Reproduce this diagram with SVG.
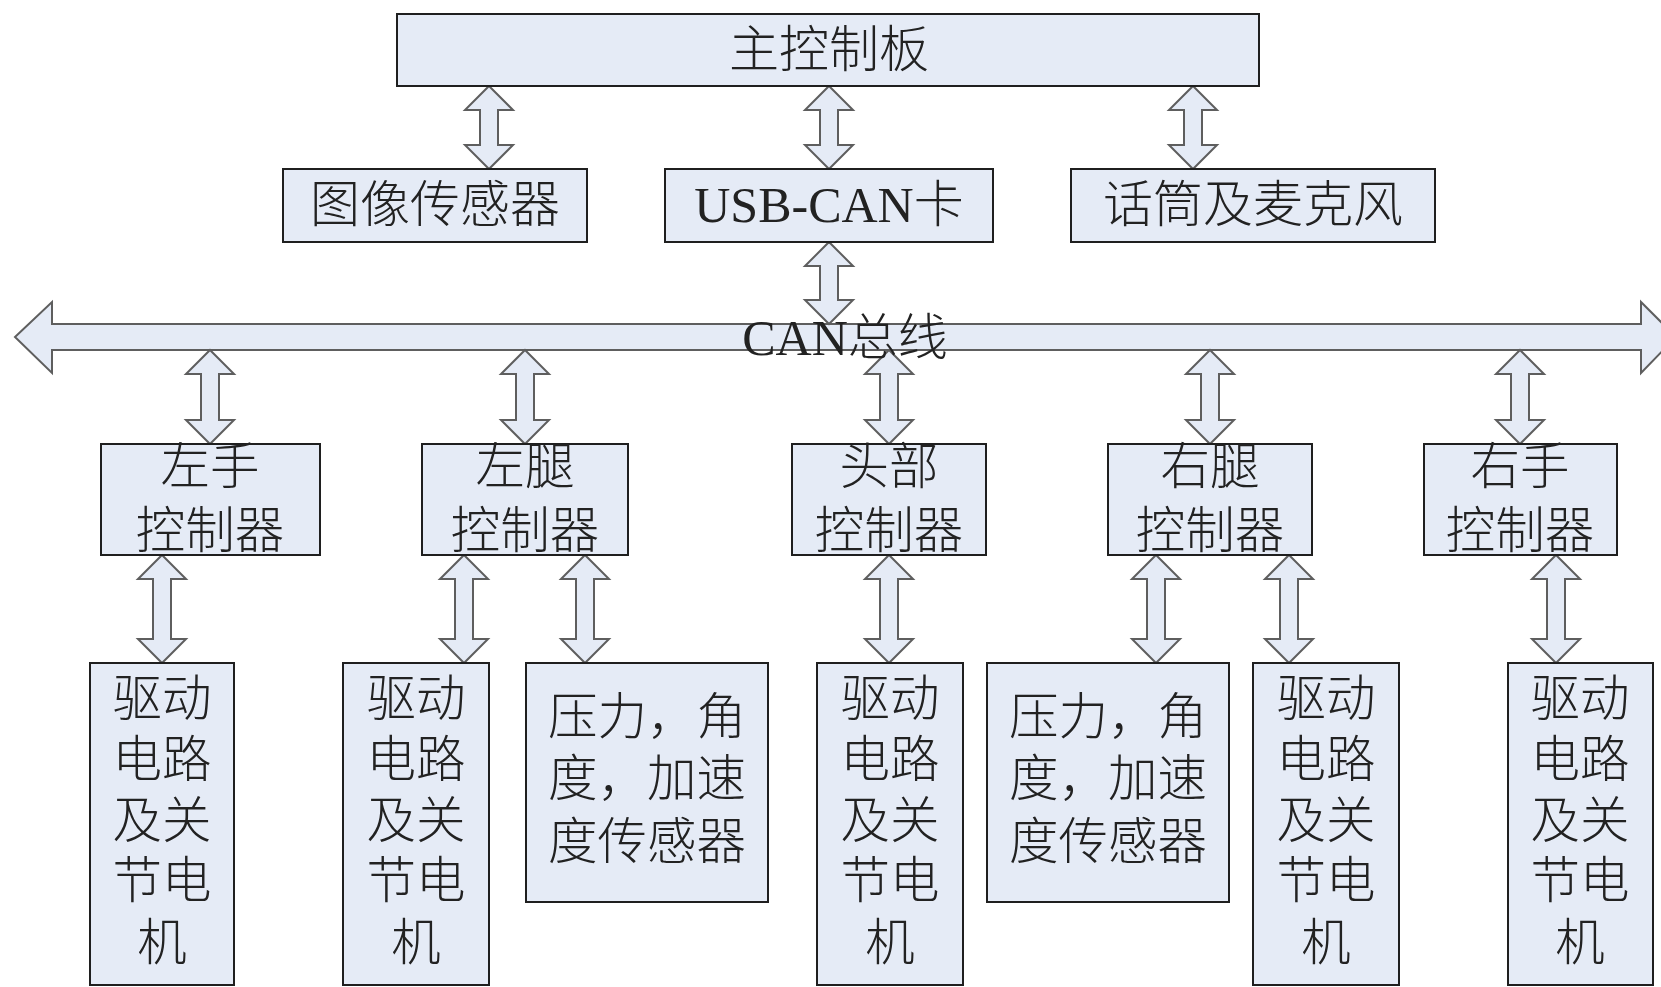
<svg xmlns="http://www.w3.org/2000/svg" width="1661" height="987" viewBox="0 0 1661 987">
<style>
.box{fill:#E5EBF6;stroke:#1f1f1f;stroke-width:2}
.arr{fill:#E5EBF6;stroke:#5e5e5e;stroke-width:2;stroke-linejoin:miter}
.t{font-family:"Liberation Serif","Noto Sans CJK SC",serif;fill:#222222;text-anchor:middle;dominant-baseline:central;font-weight:300}
.t50{font-size:50px}
.t48{font-size:49.5px}
</style>
<rect width="1661" height="987" fill="#ffffff"/>
<g id="connectors">
<path id="can-bus" class="arr" d="M15,337 L52,302 L52,324 L1641,324 L1641,302 L1676,337 L1641,373 L1641,350 L52,350 L52,373 Z"/>
<path class="arr" d="M489,86 L513,110 L498,110 L498,145 L513,145 L489,169 L465,145 L480,145 L480,110 L465,110 Z"/>
<path class="arr" d="M829,86 L853,110 L838,110 L838,145 L853,145 L829,169 L805,145 L820,145 L820,110 L805,110 Z"/>
<path class="arr" d="M1193,86 L1217,110 L1202,110 L1202,145 L1217,145 L1193,169 L1169,145 L1184,145 L1184,110 L1169,110 Z"/>
<path class="arr" d="M829,242 L853,266 L838,266 L838,300 L853,300 L829,324 L805,300 L820,300 L820,266 L805,266 Z"/>
<path class="arr" d="M210,350 L234,374 L219,374 L219,420 L234,420 L210,444 L186,420 L201,420 L201,374 L186,374 Z"/>
<path class="arr" d="M525,350 L549,374 L534,374 L534,420 L549,420 L525,444 L501,420 L516,420 L516,374 L501,374 Z"/>
<path class="arr" d="M889,350 L913,374 L898,374 L898,420 L913,420 L889,444 L865,420 L880,420 L880,374 L865,374 Z"/>
<path class="arr" d="M1210,350 L1234,374 L1219,374 L1219,420 L1234,420 L1210,444 L1186,420 L1201,420 L1201,374 L1186,374 Z"/>
<path class="arr" d="M1520,350 L1544,374 L1529,374 L1529,420 L1544,420 L1520,444 L1496,420 L1511,420 L1511,374 L1496,374 Z"/>
<path class="arr" d="M162,555 L186,579 L171,579 L171,639 L186,639 L162,663 L138,639 L153,639 L153,579 L138,579 Z"/>
<path class="arr" d="M464,555 L488,579 L473,579 L473,639 L488,639 L464,663 L440,639 L455,639 L455,579 L440,579 Z"/>
<path class="arr" d="M585,555 L609,579 L594,579 L594,639 L609,639 L585,663 L561,639 L576,639 L576,579 L561,579 Z"/>
<path class="arr" d="M889,555 L913,579 L898,579 L898,639 L913,639 L889,663 L865,639 L880,639 L880,579 L865,579 Z"/>
<path class="arr" d="M1156,555 L1180,579 L1165,579 L1165,639 L1180,639 L1156,663 L1132,639 L1147,639 L1147,579 L1132,579 Z"/>
<path class="arr" d="M1289,555 L1313,579 L1298,579 L1298,639 L1313,639 L1289,663 L1265,639 L1280,639 L1280,579 L1265,579 Z"/>
<path class="arr" d="M1556,555 L1580,579 L1565,579 L1565,639 L1580,639 L1556,663 L1532,639 L1547,639 L1547,579 L1532,579 Z"/>
<text class="t t50" x="845" y="338">CAN总线</text>
</g>
<g id="main-board"><rect class="box" x="397" y="14" width="862" height="72"/><text class="t t50" x="829" y="50">主控制板</text></g>
<g id="image-sensor"><rect class="box" x="283" y="169" width="304" height="73"/><text class="t t50" x="435" y="205">图像传感器</text></g>
<g id="usb-can"><rect class="box" x="665" y="169" width="328" height="73"/><text class="t t50" x="829" y="205">USB-CAN卡</text></g>
<g id="microphone"><rect class="box" x="1071" y="169" width="364" height="73"/><text class="t t50" x="1253" y="205">话筒及麦克风</text></g>
<g id="left-hand-ctrl"><rect class="box" x="101" y="444" width="219" height="111"/><text class="t t48" x="210" y="467">左手</text><text class="t t48" x="210" y="531">控制器</text></g>
<g id="left-leg-ctrl"><rect class="box" x="422" y="444" width="206" height="111"/><text class="t t48" x="525" y="467">左腿</text><text class="t t48" x="525" y="531">控制器</text></g>
<g id="head-ctrl"><rect class="box" x="792" y="444" width="194" height="111"/><text class="t t48" x="889" y="467">头部</text><text class="t t48" x="889" y="531">控制器</text></g>
<g id="right-leg-ctrl"><rect class="box" x="1108" y="444" width="204" height="111"/><text class="t t48" x="1210" y="467">右腿</text><text class="t t48" x="1210" y="531">控制器</text></g>
<g id="right-hand-ctrl"><rect class="box" x="1424" y="444" width="193" height="111"/><text class="t t48" x="1520" y="467">右手</text><text class="t t48" x="1520" y="531">控制器</text></g>
<g id="left-hand-drive"><rect class="box" x="90" y="663" width="144" height="322"/><text class="t t48" x="162"><tspan x="162" y="699">驱动</tspan><tspan x="162" y="760">电路</tspan><tspan x="162" y="821">及关</tspan><tspan x="162" y="881">节电</tspan><tspan x="162" y="943">机</tspan></text></g>
<g id="left-leg-drive"><rect class="box" x="343" y="663" width="146" height="322"/><text class="t t48" x="416"><tspan x="416" y="699">驱动</tspan><tspan x="416" y="760">电路</tspan><tspan x="416" y="821">及关</tspan><tspan x="416" y="881">节电</tspan><tspan x="416" y="943">机</tspan></text></g>
<g id="left-leg-sensor"><rect class="box" x="526" y="663" width="242" height="239"/><text class="t t48" x="647"><tspan x="647" y="717">压力，角</tspan><tspan x="647" y="779">度，加速</tspan><tspan x="647" y="842">度传感器</tspan></text></g>
<g id="head-drive"><rect class="box" x="817" y="663" width="146" height="322"/><text class="t t48" x="890"><tspan x="890" y="699">驱动</tspan><tspan x="890" y="760">电路</tspan><tspan x="890" y="821">及关</tspan><tspan x="890" y="881">节电</tspan><tspan x="890" y="943">机</tspan></text></g>
<g id="right-leg-sensor"><rect class="box" x="987" y="663" width="242" height="239"/><text class="t t48" x="1108"><tspan x="1108" y="717">压力，角</tspan><tspan x="1108" y="779">度，加速</tspan><tspan x="1108" y="842">度传感器</tspan></text></g>
<g id="right-leg-drive"><rect class="box" x="1253" y="663" width="146" height="322"/><text class="t t48" x="1326"><tspan x="1326" y="699">驱动</tspan><tspan x="1326" y="760">电路</tspan><tspan x="1326" y="821">及关</tspan><tspan x="1326" y="881">节电</tspan><tspan x="1326" y="943">机</tspan></text></g>
<g id="right-hand-drive"><rect class="box" x="1508" y="663" width="145" height="322"/><text class="t t48" x="1580"><tspan x="1580" y="699">驱动</tspan><tspan x="1580" y="760">电路</tspan><tspan x="1580" y="821">及关</tspan><tspan x="1580" y="881">节电</tspan><tspan x="1580" y="943">机</tspan></text></g>
</svg>
